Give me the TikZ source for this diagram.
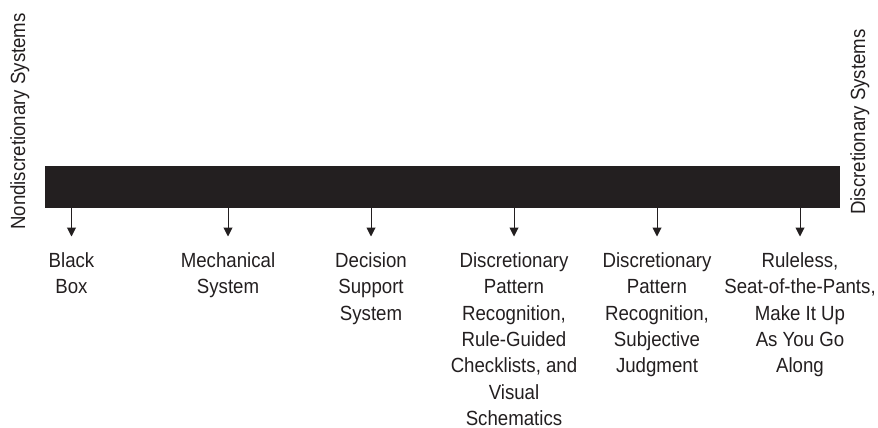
\documentclass[tikz,border=0pt]{standalone}
\usepackage{fontspec}
\setmainfont{Liberation Sans}[FakeStretch=0.91]
\usetikzlibrary{arrows.meta}
\definecolor{ink}{HTML}{231F20}
\tikzset{
  spectrum/.style={draw=none, fill=ink, rectangle, inner sep=0pt,
    minimum width=795pt, minimum height=42pt},
  pointer/.style={draw=ink, line width=1pt,
    -{Triangle[length=9pt,width=9pt]}, shorten >=16pt},
  category/.style={text=ink, align=center, inner sep=0pt, anchor=north,
    font=\fontsize{20.5pt}{26.3pt}\selectfont},
  endlabel/.style={text=ink, rotate=90, inner sep=0pt, anchor=base west,
    font=\fontsize{20.5pt}{23pt}\selectfont}
}
\begin{document}
\begin{tikzpicture}[x=1pt, y=-1pt]
  \useasboundingbox (0,0) rectangle (878,428);

  % the continuum bar
  \node[spectrum] (bar) at (442.5,187) {};

  % the two ends of the continuum
  \node[endlabel] (nondisc) at (25,230) {Nondiscretionary Systems};
  \node[endlabel] (disc) at (865,215) {Discretionary Systems};

  % categories along the continuum
  \node[category] (blackbox) at (71.5,252.5) {Black\\Box};
  \node[category] (mech) at (228,252.5) {Mechanical\\System};
  \node[category] (dss) at (371,252.5) {Decision\\Support\\System};
  \node[category] (dprc) at (514,252.5) {Discretionary\\Pattern\\Recognition,\\Rule-Guided\\Checklists, and\\Visual\\Schematics};
  \node[category] (dprs) at (657,252.5) {Discretionary\\Pattern\\Recognition,\\Subjective\\Judgment};
  \node[category] (rules) at (800,252.5) {Ruleless,\\Seat-of-the-Pants,\\Make It Up\\As You Go\\Along};

  % pointers from the bar down to each category
  \foreach \n in {blackbox,mech,dss,dprc,dprs,rules}
    \draw[pointer] (bar.south -| \n.north) -- (\n.north);
\end{tikzpicture}
\end{document}
